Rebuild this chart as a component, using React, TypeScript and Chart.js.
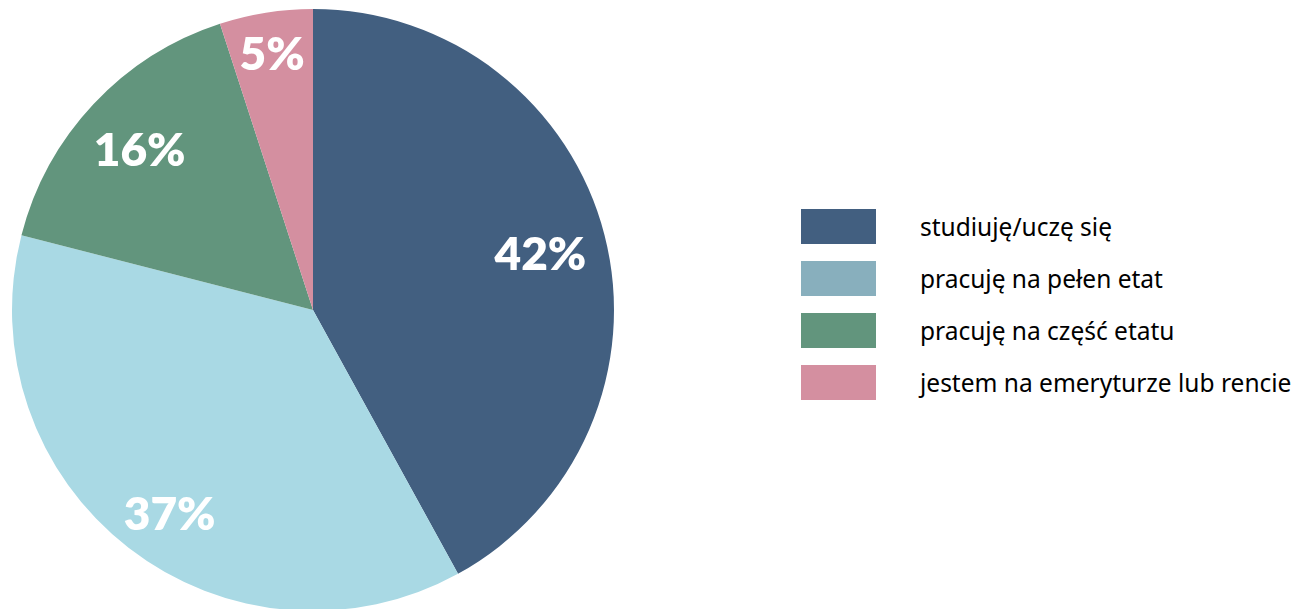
import React, { useEffect, useRef } from "react";
import { Chart, registerables } from "chart.js";

Chart.register(...registerables);

const categories = [
  "studiuję/uczę się",
  "pracuję na pełen etat",
  "pracuję na część etatu",
  "jestem na emeryturze lub rencie",
];
const values = [42, 37, 16, 5];
const sliceColors = ["#425F80", "#A9D9E4", "#62957D", "#D48FA0"];
const legendColors = ["#425F80", "#88AFBD", "#62957D", "#D48FA0"];
const labelRadiusFactors = [0.78, 0.82, 0.79, 0.87];

const labelPlugin = {
  id: "sliceLabels",
  afterDatasetsDraw(chart: any) {
    const ctx = chart.ctx;
    const meta = chart.getDatasetMeta(0);
    ctx.save();
    ctx.fillStyle = "#ffffff";
    ctx.font = "800 46px Lato, 'Open Sans', sans-serif";
    ctx.textAlign = "center";
    ctx.textBaseline = "middle";
    meta.data.forEach((arc: any, i: number) => {
      const p = arc.getProps(["x", "y", "startAngle", "endAngle", "outerRadius"], true);
      const mid = (p.startAngle + p.endAngle) / 2 - (i === 1 ? 0.04 : 0);
      const r = p.outerRadius * labelRadiusFactors[i];
      ctx.fillText(values[i] + "%", p.x + Math.cos(mid) * r, p.y + Math.sin(mid) * r + 4);
    });
    ctx.restore();
  },
};

export default function App() {
  const ref = useRef<HTMLCanvasElement | null>(null);
  useEffect(() => {
    document.body.style.margin = "0";
    const chart = new Chart(ref.current!, {
      type: "pie",
      data: {
        labels: categories,
        datasets: [
          {
            data: values,
            backgroundColor: sliceColors,
            borderWidth: 0,
          },
        ],
      },
      options: {
        animation: false,
        responsive: false,
        maintainAspectRatio: false,
        layout: { padding: { top: 9, bottom: 9, left: 12, right: 12 } },
        plugins: {
          legend: { display: false },
          tooltip: { enabled: false },
        },
      },
      plugins: [labelPlugin],
    });
    return () => chart.destroy();
  }, []);

  return (
    <div
      style={{
        position: "relative",
        width: 1301,
        height: 609,
        overflow: "hidden",
        background: "#ffffff",
      }}
    >
      <canvas
        ref={ref}
        width={626}
        height={620}
        style={{ position: "absolute", left: 0, top: 0, width: 626, height: 620 }}
      />
      {categories.map((c, i) => (
        <div
          key={c}
          style={{
            position: "absolute",
            left: 801,
            top: 209 + i * 52,
            height: 35,
            display: "flex",
            alignItems: "center",
            whiteSpace: "nowrap",
          }}
        >
          <div style={{ width: 75, height: 35, background: legendColors[i] }} />
          <span
            style={{
              marginLeft: 44,
              fontFamily: "'Noto Sans', sans-serif",
              fontSize: 24.5,
              fontWeight: 400,
              color: "#000000",
              lineHeight: "35px",
            }}
          >
            {c}
          </span>
        </div>
      ))}
    </div>
  );
}
